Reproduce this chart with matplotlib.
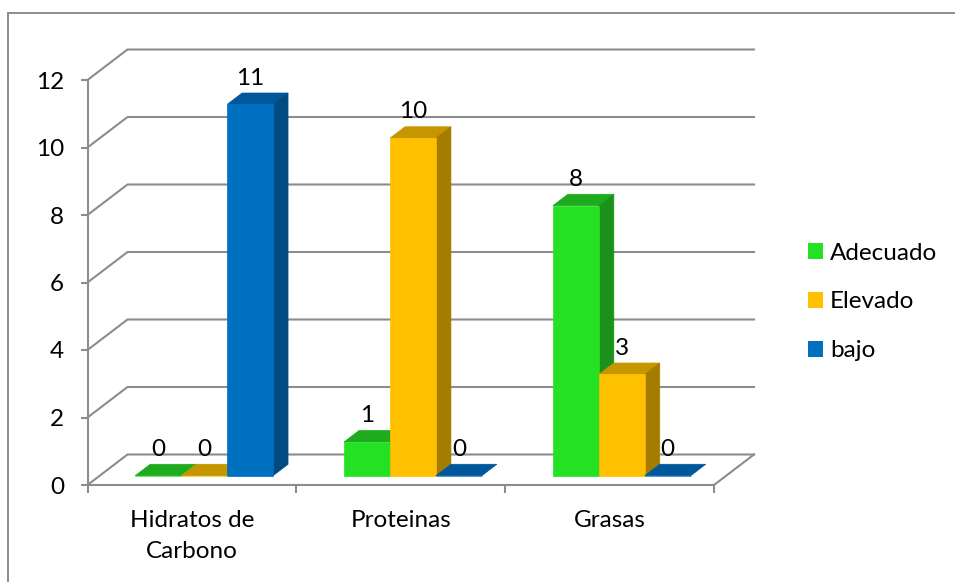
import matplotlib.pyplot as plt
import numpy as np
from matplotlib.patches import Polygon, Rectangle, Patch

plt.rcParams.update({"font.family": ["Lato", "DejaVu Sans"], "font.size": 17.5})

categories = ["Hidratos de\nCarbono", "Proteinas", "Grasas"]
series = ["Adecuado", "Elevado", "bajo"]
adecuado = [0, 1, 8]
elevado = [0, 10, 3]
bajo = [11, 0, 0]
values = [adecuado, elevado, bajo]

front_colors = ["#24E124", "#FFC000", "#0070C0"]
top_colors = ["#1EAB1E", "#C69600", "#00589A"]
side_colors = ["#1B911B", "#A47C00", "#004B82"]
grid_color = "#8C8C8C"

W, H = 955, 582
fig = plt.figure(figsize=(W / 100, H / 100), dpi=100)
fig.patches.append(Rectangle((7.5 / W, -0.1), 1.2, (H - 13) / H + 0.1,
                             transform=fig.transFigure, fill=False,
                             edgecolor=grid_color, lw=1.4))

# front plane of the 3d box
x0, x1, ytop, ybot = 87.5, 714, 80, 485
ax = fig.add_axes([x0 / W, (H - ybot) / H, (x1 - x0) / W, (ybot - ytop) / H])
ax.set_xlim(-0.5, 2.5)
ax.set_ylim(0, 12)

# depth offset (data units)
DX = 40 / ((x1 - x0) / 3)
DY = 30.5 / ((ybot - ytop) / 12)

# back wall gridlines + floor
for y in range(0, 13, 2):
    ax.plot([-0.5, -0.5 + DX, 2.5 + DX], [y, y + DY, y + DY],
            color=grid_color, lw=1.5, clip_on=False, zorder=1)
ax.plot([2.5, 2.5 + DX], [0, DY], color=grid_color, lw=1.5, clip_on=False, zorder=1)

# bars
x = np.arange(len(categories))
w = 0.22
offsets = [-w, 0, w]
f0, f1 = 0.305, 0.68
a, b = f0 * DX, f0 * DY
c, d = f1 * DX, f1 * DY

for j, vals in enumerate(values):
    xs = x + offsets[j] + a
    ax.bar(xs, vals, w, bottom=b, color=front_colors[j], edgecolor=front_colors[j],
           lw=0.5, zorder=5 + 2 * j, clip_on=False, label=series[j])
    for xc, v in zip(xs, vals):
        xl, xr = xc - w / 2, xc + w / 2
        top = [(xl, v + b), (xr, v + b), (xr + c - a, v + d), (xl + c - a, v + d)]
        side = [(xr, b), (xr + c - a, d), (xr + c - a, v + d), (xr, v + b)]
        ax.add_patch(Polygon(top, closed=True, facecolor=top_colors[j],
                             edgecolor=top_colors[j], lw=0.5, zorder=4 + 2 * j, clip_on=False))
        if v > 0:
            ax.add_patch(Polygon(side, closed=True, facecolor=side_colors[j],
                                 edgecolor=side_colors[j], lw=0.5, zorder=4 + 2 * j, clip_on=False))
        ax.annotate(str(v), (xc, v + b), xytext=(0, 19), textcoords="offset points",
                    ha="center", va="center", zorder=20, annotation_clip=False)

# axes
for s in ["top", "right"]:
    ax.spines[s].set_visible(False)
for s in ["left", "bottom"]:
    ax.spines[s].set_color(grid_color)
    ax.spines[s].set_linewidth(1.5)
    ax.spines[s].set_zorder(2)
ax.set_yticks(range(0, 13, 2))
ax.tick_params(axis="y", length=5, width=1.5, color=grid_color, pad=12)
ax.set_xticks(x, categories)
ax.set_xticks([-0.5, 0.5, 1.5, 2.5], minor=True)
ax.tick_params(axis="x", which="major", length=0, pad=18)
ax.tick_params(axis="x", which="minor", length=6, width=1.5, color=grid_color)
for t in ax.get_xticklabels():
    t.set_linespacing(1.6)
ax.set_facecolor("none")

handles = [Patch(facecolor=front_colors[j], label=series[j]) for j in range(3)]
fig.legend(handles=handles, loc="center left", bbox_to_anchor=(786 / W, 1 - 302 / H),
           frameon=False, handlelength=0.62, handleheight=0.62, handletextpad=0.3,
           labelspacing=1.15)

fig.savefig("out.png", dpi=100)
